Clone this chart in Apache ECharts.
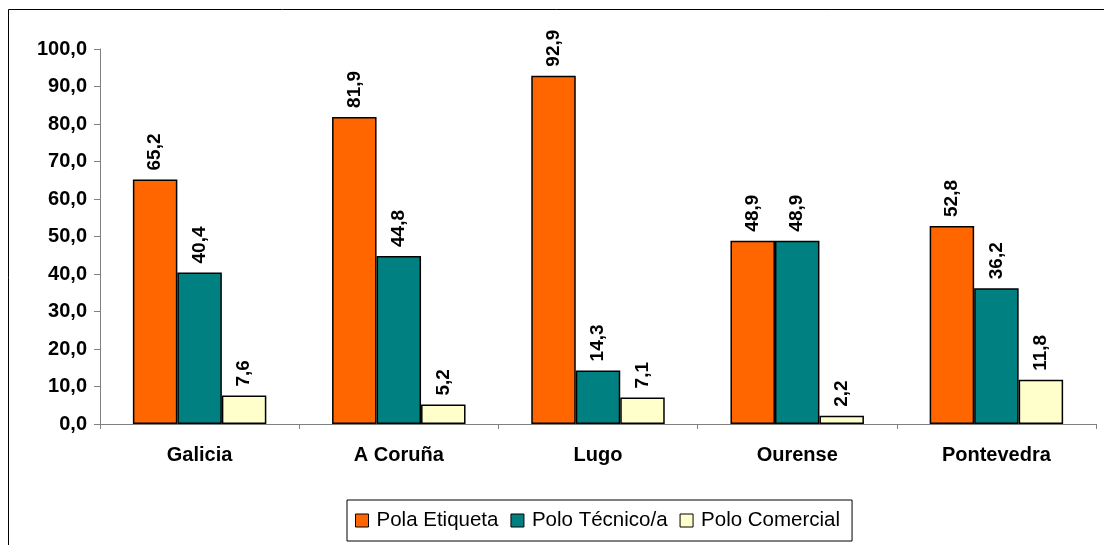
<!DOCTYPE html>
<html><head><meta charset="utf-8">
<script src="https://cdn.jsdelivr.net/npm/echarts@6/dist/echarts.min.js"></script>
<style>html,body{margin:0;padding:0;background:#fff}#c{width:1104px;height:545px}</style>
</head><body><div id="c"></div>
<script>
const categories = ['Galicia', 'A Coruña', 'Lugo', 'Ourense', 'Pontevedra'];
const seriesNames = ['Pola Etiqueta', 'Polo Técnico/a', 'Polo Comercial'];
const etiqueta = [65.2, 81.9, 92.9, 48.9, 52.8];
const tecnico = [40.4, 44.8, 14.3, 48.9, 36.2];
const comercial = [7.6, 5.2, 7.1, 2.2, 11.8];
const colors = ['#FF6600', '#008080', '#FFFFCC'];
const FONT = '"Liberation Sans", Arial, sans-serif';
const fmt = v => v.toFixed(1).replace('.', ',');
const chart = echarts.init(document.getElementById('c'));
const mk = (name, data, color) => ({
  name, type: 'bar', data, barGap: '0%', barCategoryGap: '33%',
  itemStyle: { color, borderColor: '#000', borderWidth: 1.5 },
  label: { show: true, position: 'top', rotate: 90, align: 'left', verticalAlign: 'middle', distance: 9,
    fontFamily: FONT, fontWeight: 'bold', fontSize: 19, color: '#000',
    formatter: p => fmt(p.value) },
  emphasis: { disabled: true }
});
chart.setOption({
  animation: false,
  textStyle: { fontFamily: FONT },
  graphic: [{ type: 'rect', shape: { x: 8.5, y: 9.5, width: 1200, height: 700 }, style: { fill: 'none', stroke: '#000', lineWidth: 1 } }],
  grid: { left: 100, right: 8, top: 49, bottom: 121 },
  legend: {
    left: 347, top: 500, padding: [10, 12, 10, 8], itemGap: 12, itemWidth: 13, itemHeight: 13,
    borderColor: '#000', borderWidth: 1, icon: 'rect',
    itemStyle: { borderColor: '#000', borderWidth: 1 },
    textStyle: { fontFamily: FONT, fontSize: 20.5, color: '#000', padding: [0, 0, 0, 3] },
    data: seriesNames
  },
  xAxis: {
    type: 'category', data: categories,
    axisLine: { lineStyle: { color: '#808080' } },
    axisTick: { show: true, length: 5, lineStyle: { color: '#808080' } },
    axisLabel: { fontFamily: FONT, fontWeight: 'bold', fontSize: 20, color: '#000', margin: 21 }
  },
  yAxis: {
    type: 'value', min: 0, max: 100, interval: 10,
    axisLine: { show: true, lineStyle: { color: '#808080' } },
    axisTick: { show: true, length: 6, lineStyle: { color: '#808080' } },
    splitLine: { show: false },
    axisLabel: { fontFamily: FONT, fontWeight: 'bold', fontSize: 20, color: '#000', margin: 13, formatter: v => fmt(v) }
  },
  series: [mk(seriesNames[0], etiqueta, colors[0]), mk(seriesNames[1], tecnico, colors[1]), mk(seriesNames[2], comercial, colors[2])]
});
</script></body></html>
